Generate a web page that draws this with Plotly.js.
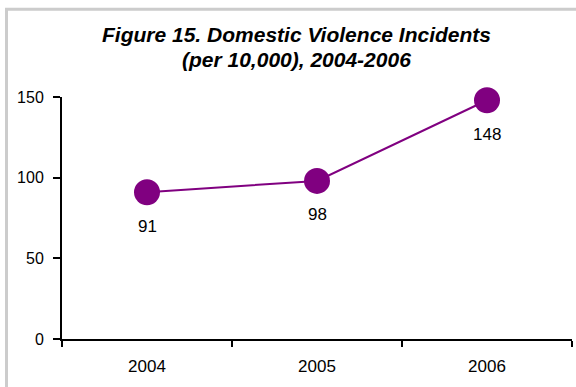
<!DOCTYPE html>
<html>
<head>
<meta charset="utf-8">
<script src="https://cdn.plot.ly/plotly-3.0.1.min.js"></script>
<style>
  html, body { margin: 0; padding: 0; background: #ffffff; }
  #chart { width: 576px; height: 387px; }
</style>
</head>
<body>
<div id="chart"></div>
<script>
// Domestic violence incidents per 10,000 residents
const years = ['2004', '2005', '2006'];
const incidents = [91, 98, 148];
const yTicks = [0, 50, 100, 150];
const titleLines = ['Figure 15. Domestic Violence Incidents', '(per 10,000), 2004-2006'];
const titleRows = [1.259, 1.157];

const purple = '#800080';
const font = 'Liberation Sans, Arial, sans-serif';

const trace = {
  type: 'scatter',
  mode: 'lines+markers',
  x: years,
  y: incidents,
  line: { color: purple, width: 2 },
  marker: { color: purple, size: 26 },
  hoverinfo: 'x+y',
  cliponaxis: false
};

// value labels under each point (category axis uses serial positions)
const valueLabels = years.map((yr, i) => ({
  x: i,
  y: incidents[i],
  xref: 'x',
  yref: 'y',
  text: String(incidents[i]),
  showarrow: false,
  yshift: -34,
  font: { family: font, size: 17, color: '#000000' }
}));

// two-line chart heading
const headingLines = titleLines.map((t, i) => ({
  text: '<b><i>' + t + '</i></b>',
  xref: 'paper',
  yref: 'paper',
  x: 0.46,
  y: titleRows[i],
  xanchor: 'center',
  yanchor: 'middle',
  showarrow: false,
  font: { family: font, size: 21, color: '#000000' }
}));

const layout = {
  width: 576,
  height: 387,
  margin: { l: 62, r: 4, t: 97, b: 48 },
  paper_bgcolor: '#ffffff',
  plot_bgcolor: '#ffffff',
  showlegend: false,
  xaxis: {
    type: 'category',
    categoryorder: 'array',
    categoryarray: years,
    range: [-0.5, 2.5],
    tickson: 'boundaries',
    ticks: 'outside',
    ticklen: 6,
    tickwidth: 2,
    tickcolor: '#000000',
    showline: true,
    linecolor: '#000000',
    linewidth: 2,
    showgrid: false,
    zeroline: false,
    tickfont: { family: font, size: 17, color: '#000000' },
    ticklabelstandoff: 11
  },
  yaxis: {
    range: [0, 150],
    tickmode: 'array',
    tickvals: yTicks,
    ticktext: yTicks.map(String),
    ticks: 'outside',
    ticklen: 7,
    tickwidth: 2,
    tickcolor: '#000000',
    showline: true,
    linecolor: '#000000',
    linewidth: 2,
    showgrid: false,
    zeroline: false,
    tickfont: { family: font, size: 16, color: '#000000' },
    ticklabelstandoff: 6
  },
  shapes: [{
    type: 'rect',
    xref: 'paper',
    yref: 'paper',
    x0: -0.1088,
    x1: 1.2,
    y0: -0.5,
    y1: 1.363,
    line: { color: '#cccccc', width: 3 },
    fillcolor: 'rgba(0,0,0,0)',
    layer: 'below'
  }],
  annotations: headingLines.concat(valueLabels)
};

Plotly.newPlot('chart', [trace], layout, { staticPlot: true, displayModeBar: false });
</script>
</body>
</html>
